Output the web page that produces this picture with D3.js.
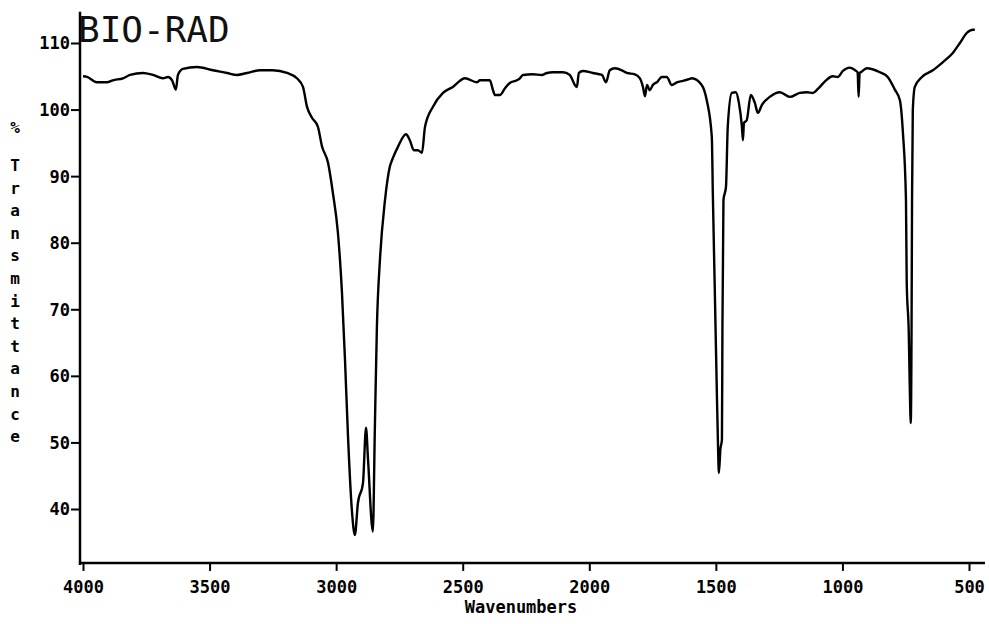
<!DOCTYPE html>
<html>
<head>
<meta charset="utf-8">
<script src="https://cdn.jsdelivr.net/npm/d3@7"></script>
<style>
  body { margin: 0; background: #fff; }
  svg { display: block; }
  .tick text { font-family: "DejaVu Sans Mono", monospace; font-weight: bold; font-size: 17px; fill: #000; }
</style>
</head>
<body>
<div id="chart"></div>
<script>
var svgWidth = 989;
var svgHeight = 624;

// wavenumbers (cm-1), high to low
var wavenumbers = [
  4000, 3984, 3945, 3905, 3882, 3842, 3814, 3763, 3724, 3684, 3664, 3648, 3633, 3625, 3605, 3550,
  3487, 3431, 3392, 3352, 3301, 3250, 3194, 3155, 3131, 3115, 3096, 3072, 3056, 3032, 3013, 2993,
  2977, 2965, 2953, 2938, 2926, 2914, 2894, 2882, 2874, 2855, 2847, 2839, 2827, 2807, 2788, 2776,
  2756, 2724, 2709, 2693, 2677, 2661, 2649, 2618, 2578, 2539, 2491, 2444, 2432, 2393, 2381, 2373,
  2353, 2333, 2314, 2286, 2274, 2262, 2223, 2187, 2167, 2144, 2104, 2077, 2057, 2049, 2041, 2025,
  1986, 1950, 1934, 1919, 1899, 1871, 1852, 1820, 1800, 1788, 1780, 1772, 1761, 1749, 1733, 1713,
  1694, 1674, 1654, 1630, 1603, 1595, 1556, 1536, 1516, 1512, 1504, 1496, 1492, 1488, 1482, 1476,
  1474, 1470, 1460, 1453, 1437, 1421, 1409, 1397, 1393, 1389, 1378, 1362, 1346, 1334, 1318, 1287,
  1247, 1208, 1168, 1140, 1117, 1097, 1070, 1038, 1018, 998, 971, 950, 940, 936, 932, 927,
  904, 852, 821, 793, 773, 761, 749, 746, 738, 734, 730, 727, 725, 722, 714, 686,
  643, 604, 564, 536, 509, 485, 477
];

// % transmittance at each wavenumber
var transmittance = [
  105.0, 104.9, 104.1, 104.1, 104.4, 104.7, 105.2, 105.5, 105.2, 104.7, 104.9, 104.4, 103.0, 105.2, 106.1, 106.4,
  105.9, 105.5, 105.2, 105.5, 105.9, 105.9, 105.5, 104.7, 103.4, 100.4, 98.8, 97.4, 94.5, 92.0, 87.5, 81.5,
  72.5, 62.4, 50.8, 39.9, 36.1, 40.9, 43.9, 52.2, 47.4, 36.6, 52.3, 67.4, 77.4, 86.4, 91.4, 92.7,
  94.4, 96.3, 95.4, 93.9, 93.9, 93.5, 97.4, 100.4, 102.5, 103.4, 104.7, 104.1, 104.4, 104.4, 103.0, 102.2,
  102.2, 103.2, 104.0, 104.4, 104.7, 105.2, 105.3, 105.2, 105.5, 105.6, 105.6, 105.2, 103.7, 103.4, 105.5, 105.8,
  105.5, 105.2, 104.1, 105.9, 106.2, 105.9, 105.5, 105.3, 104.7, 103.4, 102.0, 103.7, 102.9, 103.7, 104.1, 104.9,
  104.9, 103.7, 104.1, 104.3, 104.6, 104.7, 103.7, 101.4, 95.9, 87.5, 72.5, 57.4, 50.4, 45.4, 49.0, 50.4,
  67.4, 86.4, 88.4, 97.4, 102.5, 102.6, 101.0, 97.4, 95.4, 98.0, 98.4, 102.2, 101.0, 99.5, 100.7, 101.9,
  102.6, 101.9, 102.5, 102.6, 102.5, 103.1, 104.2, 105.0, 104.9, 105.8, 106.3, 105.9, 105.6, 101.9, 105.5, 105.6,
  106.2, 105.6, 104.9, 103.0, 101.4, 96.5, 86.4, 74.0, 66.5, 58.4, 52.9, 66.5, 86.4, 99.9, 103.4, 104.9,
  105.9, 107.1, 108.5, 110.0, 111.5, 112.0, 112.0
];

var xTicks = [4000, 3500, 3000, 2500, 2000, 1500, 1000, 500];
var yTicks = [40, 50, 60, 70, 80, 90, 100, 110];
var yLabelChars = ["T", "r", "a", "n", "s", "m", "i", "t", "t", "a", "n", "c", "e"];

var spectrum = wavenumbers.map((w, i) => ({ wn: w, t: transmittance[i] }));

var svg = d3.select("#chart")
  .append("svg")
  .attr("width", svgWidth)
  .attr("height", svgHeight);

// x runs high to low like the instrument plot
var xScale = d3.scaleLinear().domain([4000, 500]).range([83, 969]);
var yScale = d3.scaleLinear().domain([40, 110]).range([509, 43]);

var xMin = 437;   // right end of the x axis line
var yMin = 31.9;  // bottom of the y axis line
var yMax = 114.7; // top of the y axis line

// x axis
var bottomAxis = d3.axisBottom(xScale)
  .tickValues(xTicks)
  .tickFormat(d3.format("d"))
  .tickSize(8)
  .tickSizeOuter(0);

var xAxis = svg.append("g")
  .attr("transform", `translate(0, ${yScale(yMin)})`)
  .call(bottomAxis);
xAxis.select(".domain").remove();
xAxis.selectAll(".tick line").attr("stroke", "#000").attr("stroke-width", 2);
xAxis.selectAll(".tick text").attr("dy", "1.15em");

svg.append("line")
  .attr("x1", xScale(4000) - 2).attr("x2", xScale(xMin))
  .attr("y1", yScale(yMin)).attr("y2", yScale(yMin))
  .attr("stroke", "#000").attr("stroke-width", 2.5);

// y axis
var leftAxis = d3.axisLeft(yScale)
  .tickValues(yTicks)
  .tickSize(9)
  .tickSizeOuter(0);

var yAxis = svg.append("g")
  .attr("transform", `translate(${xScale(4000) - 3}, 0)`)
  .call(leftAxis);
yAxis.select(".domain").remove();
yAxis.selectAll(".tick line").attr("stroke", "#000").attr("stroke-width", 2);
yAxis.selectAll(".tick text").attr("x", -10).attr("dy", "0.35em");

svg.append("line")
  .attr("x1", xScale(4000) - 3).attr("x2", xScale(4000) - 3)
  .attr("y1", yScale(yMax)).attr("y2", yScale(yMin) + 2)
  .attr("stroke", "#000").attr("stroke-width", 2.5);

// spectrum trace
var line = d3.line()
  .x(d => xScale(d.wn))
  .y(d => yScale(d.t))
  .curve(d3.curveMonotoneX);

svg.append("path")
  .datum(spectrum)
  .attr("fill", "none")
  .attr("stroke", "#000")
  .attr("stroke-width", 2.4)
  .attr("stroke-linejoin", "round")
  .attr("d", d => line(d.slice().reverse()));

// instrument label
svg.append("text")
  .attr("x", 78)
  .attr("y", 42)
  .attr("font-family", "DejaVu Sans Mono, monospace")
  .attr("font-size", 36)
  .attr("fill", "#111")
  .text("BIO-RAD");

// x axis title
svg.append("text")
  .attr("x", 521)
  .attr("y", 613)
  .attr("text-anchor", "middle")
  .attr("font-family", "DejaVu Sans Mono, monospace")
  .attr("font-weight", "bold")
  .attr("font-size", 17)
  .text("Wavenumbers");

// y axis title, stacked letters
var yLabel = svg.append("g")
  .attr("font-family", "DejaVu Sans Mono, monospace")
  .attr("font-weight", "bold")
  .attr("font-size", 16)
  .attr("text-anchor", "middle");

yLabel.append("text")
  .attr("x", 15)
  .attr("y", 133)
  .text("%");

yLabel.selectAll("text.ch")
  .data(yLabelChars)
  .enter()
  .append("text")
  .classed("ch", true)
  .attr("x", 15)
  .attr("y", (d, i) => 171 + i * 22.6)
  .text(d => d);
</script>
</body>
</html>
